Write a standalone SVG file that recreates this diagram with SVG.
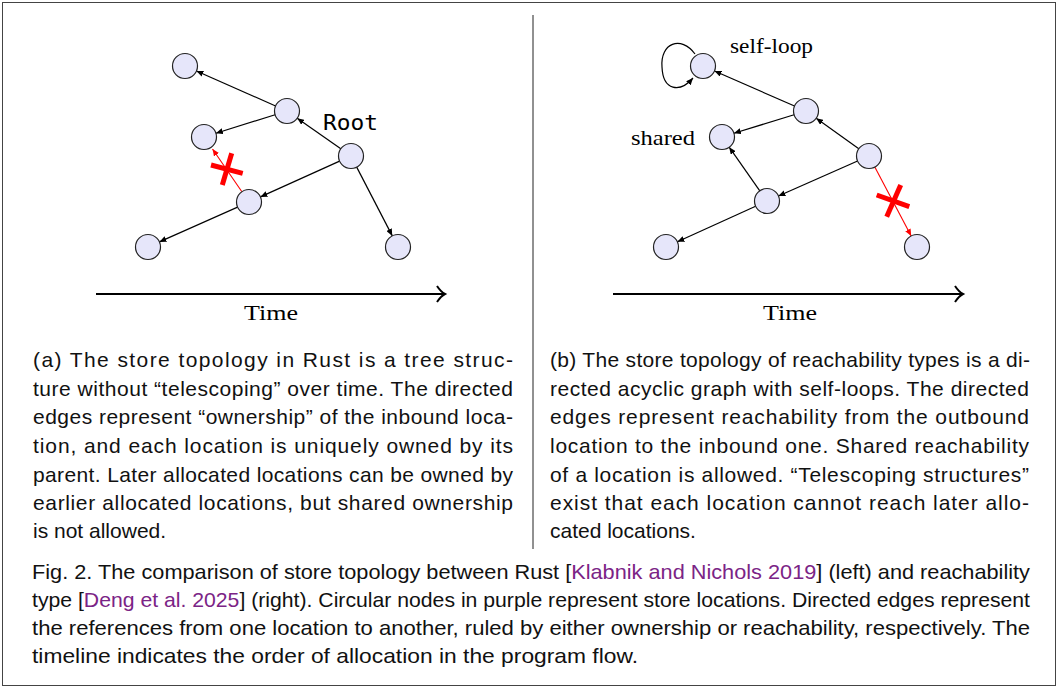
<svg xmlns="http://www.w3.org/2000/svg" width="1058" height="688" viewBox="0 0 1058 688">
<style>
.node{fill:#E6E6FA;stroke:#222;stroke-width:1.2}
.edge{stroke:#000;stroke-width:1.2;fill:none}
.red{stroke:#FF0000;stroke-width:1.1;fill:none}
.cross{stroke:#FF0000;stroke-width:5;stroke-linecap:butt}
.axis{stroke:#000;stroke-width:2;fill:none}
.lbl{font-family:"Liberation Serif",serif;font-size:21px;fill:#000}
.mono{font-family:"DejaVu Sans Mono",monospace;font-size:22px;fill:#000}
.para{font-family:"Liberation Sans",sans-serif;font-size:21px;fill:#111}
.cap{font-family:"Liberation Sans",sans-serif;font-size:21px;fill:#111}
.cite{fill:#7B2486}
</style>
<defs>
<marker id="ah" markerWidth="8" markerHeight="6" refX="7" refY="3" orient="auto" markerUnits="userSpaceOnUse"><path d="M0,0 L7,3 L0,6 z" fill="#000"/></marker>
<marker id="ahr" markerWidth="8" markerHeight="6" refX="7" refY="3" orient="auto" markerUnits="userSpaceOnUse"><path d="M0,0 L7,3 L0,6 z" fill="#FF0000"/></marker>
</defs>
<rect x="2.5" y="2.5" width="1053" height="683" fill="#fff" stroke="#444" stroke-width="1"/>
<line x1="533" y1="15" x2="533" y2="549" stroke="#222" stroke-width="1"/>

<g id="connectors">
<line class="edge" x1="275.6" y1="106" x2="196.4" y2="71" marker-end="url(#ah)"/>
<line class="edge" x1="275.1" y1="114.7" x2="215.9" y2="133.3" marker-end="url(#ah)"/>
<line class="edge" x1="340.8" y1="148.8" x2="297.2" y2="118.2" marker-end="url(#ah)"/>
<line class="edge" x1="339.6" y1="161.1" x2="260.4" y2="196.9" marker-end="url(#ah)"/>
<line class="edge" x1="356.7" y1="167.1" x2="392.3" y2="235.9" marker-end="url(#ah)"/>
<line class="edge" x1="237.6" y1="207.1" x2="159.4" y2="241.9" marker-end="url(#ah)"/>
<line class="red" x1="241.9" y1="191.7" x2="212.5" y2="149" marker-end="url(#ahr)"/>
<line class="edge" x1="794.5" y1="106" x2="714.5" y2="71" marker-end="url(#ah)"/>
<line class="edge" x1="794.1" y1="114.7" x2="733.9" y2="133.3" marker-end="url(#ah)"/>
<line class="edge" x1="858.8" y1="148.7" x2="816.2" y2="118.3" marker-end="url(#ah)"/>
<line class="edge" x1="857.6" y1="161" x2="778.4" y2="196" marker-end="url(#ah)"/>
<line class="edge" x1="755.6" y1="206.2" x2="677.4" y2="241.8" marker-end="url(#ah)"/>
<line class="edge" x1="759.8" y1="190.8" x2="729.2" y2="147.2" marker-end="url(#ah)"/>
<line class="red" x1="874.8" y1="167.1" x2="911.2" y2="236" marker-end="url(#ahr)"/>
<path class="edge" d="M695,54 C681,35 660,43 662,67 C663,91 680,93 693,78" marker-end="url(#ah)"/>
</g>

<g id="crosses">
<line class="cross" x1="211" y1="165" x2="242.7" y2="173.3"/>
<line class="cross" x1="231.7" y1="153.3" x2="222.3" y2="185"/>
<line class="cross" x1="876.7" y1="195" x2="909.3" y2="206.7"/>
<line class="cross" x1="900.7" y1="185" x2="886.7" y2="216.7"/>
</g>

<g id="left-nodes">
<circle id="la" class="node" cx="185" cy="66" r="12.5"/>
<circle id="lb" class="node" cx="287" cy="111" r="12.5"/>
<circle id="lc" class="node" cx="204" cy="137" r="12.5"/>
<circle id="lroot" class="node" cx="351" cy="156" r="12.5"/>
<circle id="ld" class="node" cx="249" cy="202" r="12.5"/>
<circle id="le" class="node" cx="148" cy="247" r="12.5"/>
<circle id="lf" class="node" cx="398" cy="247" r="12.5"/>
</g>
<g id="right-nodes">
<circle id="ra" class="node" cx="703" cy="66" r="12.5"/>
<circle id="rb" class="node" cx="806" cy="111" r="12.5"/>
<circle id="rc" class="node" cx="722" cy="137" r="12.5"/>
<circle id="rroot" class="node" cx="869" cy="156" r="12.5"/>
<circle id="rd" class="node" cx="767" cy="201" r="12.5"/>
<circle id="re" class="node" cx="666" cy="247" r="12.5"/>
<circle id="rf" class="node" cx="917" cy="247" r="12.5"/>
</g>

<g id="labels">
<text class="mono" x="323" y="130" textLength="55" lengthAdjust="spacingAndGlyphs">Root</text>
<text class="lbl" x="730" y="53" textLength="83" lengthAdjust="spacingAndGlyphs">self-loop</text>
<text class="lbl" x="631" y="145" textLength="64" lengthAdjust="spacingAndGlyphs">shared</text>
</g>

<g id="timelines">
<line class="axis" x1="96" y1="294" x2="444" y2="294"/>
<path class="axis" d="M437,286 Q441,292 445,294 Q441,296 437,302" stroke-width="1.8"/>
<text class="lbl" x="244" y="320" font-size="22" textLength="54" lengthAdjust="spacingAndGlyphs">Time</text>
<line class="axis" x1="613" y1="294" x2="962" y2="294"/>
<path class="axis" d="M955,286 Q959,292 963,294 Q959,296 955,302" stroke-width="1.8"/>
<text class="lbl" x="763" y="320" font-size="22" textLength="54" lengthAdjust="spacingAndGlyphs">Time</text>
</g>

<g id="caption-a" class="para">
<text x="33" y="367" textLength="480" lengthAdjust="spacing">(a) The store topology in Rust is a tree struc-</text>
<text x="33" y="396" textLength="480" lengthAdjust="spacing">ture without “telescoping” over time. The directed</text>
<text x="33" y="424" textLength="480" lengthAdjust="spacing">edges represent “ownership” of the inbound loca-</text>
<text x="33" y="453" textLength="480" lengthAdjust="spacing">tion, and each location is uniquely owned by its</text>
<text x="33" y="482" textLength="480" lengthAdjust="spacing">parent. Later allocated locations can be owned by</text>
<text x="33" y="510" textLength="480" lengthAdjust="spacing">earlier allocated locations, but shared ownership</text>
<text x="33" y="538">is not allowed.</text>
</g>
<g id="caption-b" class="para">
<text x="550" y="367" textLength="480" lengthAdjust="spacing">(b) The store topology of reachability types is a di-</text>
<text x="550" y="396" textLength="479" lengthAdjust="spacing">rected acyclic graph with self-loops. The directed</text>
<text x="550" y="424" textLength="479" lengthAdjust="spacing">edges represent reachability from the outbound</text>
<text x="550" y="453" textLength="479" lengthAdjust="spacing">location to the inbound one. Shared reachability</text>
<text x="550" y="482" textLength="479" lengthAdjust="spacing">of a location is allowed. “Telescoping structures”</text>
<text x="550" y="510" textLength="479" lengthAdjust="spacing">exist that each location cannot reach later allo-</text>
<text x="550" y="538">cated locations.</text>
</g>
<g id="figure-caption" class="cap">
<text x="32" y="579" textLength="998" lengthAdjust="spacingAndGlyphs">Fig. 2.  The comparison of store topology between Rust [<tspan class="cite">Klabnik and Nichols 2019</tspan>] (left) and reachability</text>
<text x="32" y="607" textLength="998" lengthAdjust="spacingAndGlyphs">type [<tspan class="cite">Deng et al. 2025</tspan>] (right). Circular nodes in purple represent store locations. Directed edges represent</text>
<text x="32" y="635" textLength="998" lengthAdjust="spacingAndGlyphs">the references from one location to another, ruled by either ownership or reachability, respectively. The</text>
<text x="32" y="663" textLength="606" lengthAdjust="spacingAndGlyphs">timeline indicates the order of allocation in the program flow.</text>
</g>
</svg>
